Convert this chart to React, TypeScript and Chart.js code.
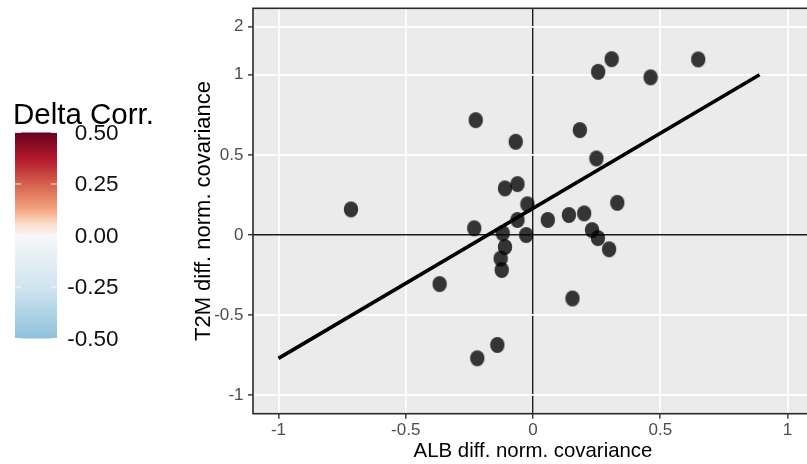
import { useEffect, useRef } from 'react';
import { Chart, registerables, LinearScale } from 'chart.js';

// Normalised covariance differences, one entry per site
const ALB_DIFF = [
  -0.225, -0.068, 0.184, 0.249, -0.110, -0.061, 0.331, -0.022, -0.061, 0.058,
  0.141, 0.201, -0.231, -0.119, -0.027, 0.232, 0.255, 0.299, -0.110, -0.127,
  -0.123, -0.367, 0.155, -0.140, -0.219, -0.715, 0.256, 0.309, 0.462, 0.649,
];
const T2M_DIFF = [
  0.717, 0.582, 0.655, 0.478, 0.291, 0.318, 0.201, 0.192, 0.094, 0.094,
  0.125, 0.135, 0.042, 0.011, 0.0, 0.031, -0.019, -0.089, -0.075, -0.147,
  -0.218, -0.306, -0.396, -0.686, -0.769, 0.160, 1.062, 1.326, 0.984, 1.320,
];

// Linear fit drawn across the panel
const FIT_X = [-1, 0.89];
const FIT_Y = [-0.77, 1.0];

const X_TICKS = [-1, -0.5, 0, 0.5, 1];
const Y_TICKS = [-1, -0.5, 0, 0.5, 1, 2];

const LEGEND_BREAKS = [0.5, 0.25, 0, -0.25, -0.5];
const LEGEND_LABELS = ['0.50', '0.25', '0.00', '-0.25', '-0.50'];

const FONT = "'Liberation Sans', Arial, sans-serif";
const PANEL_BG = '#EBEBEB';
const GRID = '#FFFFFF';
const ZERO_LINE = '#1c1c1c';
const POINT_FILL = 'rgba(0,0,0,0.78)';

// RdBu-style ramp for the colour bar, top (0.5) to bottom (-0.5)
const BAR_STOPS: [number, string][] = [
  [0, '#67001F'],
  [0.125, '#B2182B'],
  [0.25, '#D6604D'],
  [0.375, '#F4A582'],
  [0.44, '#FDDBC7'],
  [0.5, '#F7F7F7'],
  [0.75, '#D1E5F0'],
  [1, '#8FC1DB'],
];

// y axis: linear inside [-1, 1], compressed beyond it
const SQUISH = 0.3;
const squish = (v: number) =>
  Math.abs(v) <= 1 ? v : Math.sign(v) * (1 + (Math.abs(v) - 1) * SQUISH);
const unsquish = (t: number) =>
  Math.abs(t) <= 1 ? t : Math.sign(t) * (1 + (Math.abs(t) - 1) / SQUISH);

class SquishScale extends LinearScale {
  static id = 'squish';
  static defaults = LinearScale.defaults;
  configure() {
    super.configure();
    const lo = squish(this.min);
    const hi = squish(this.max);
    (this as any)._startValue = lo;
    (this as any)._endValue = hi;
    (this as any)._valueRange = hi - lo;
  }
  getPixelForValue(value: number) {
    if (value === null || value === undefined) return NaN;
    const self = this as any;
    return this.getPixelForDecimal((squish(value) - self._startValue) / self._valueRange);
  }
  getValueForPixel(pixel: number) {
    const self = this as any;
    return unsquish(self._startValue + this.getDecimalForPixel(pixel) * self._valueRange);
  }
}

Chart.register(...registerables, SquishScale);
Chart.defaults.font.family = FONT;

const Y_MIN = unsquish(-1.115);
const Y_MAX = unsquish(1.415);

function makeDot() {
  const c = document.createElement('canvas');
  c.width = 16;
  c.height = 18;
  const g = c.getContext('2d')!;
  g.fillStyle = POINT_FILL;
  g.beginPath();
  g.ellipse(8, 9, 7.2, 8.0, 0, 0, Math.PI * 2);
  g.fill();
  return c;
}

const panelPlugin = {
  id: 'panel',
  beforeDraw(chart: any) {
    const { ctx, chartArea: a } = chart;
    ctx.save();
    ctx.fillStyle = '#FFFFFF';
    ctx.fillRect(0, 0, chart.width, chart.height);
    ctx.fillStyle = PANEL_BG;
    ctx.fillRect(a.left, a.top, a.right - a.left, a.bottom - a.top);
    ctx.restore();
  },
  afterDraw(chart: any) {
    const { ctx, chartArea: a } = chart;
    ctx.save();
    // panel frame
    ctx.strokeStyle = '#2a2a2a';
    ctx.lineWidth = 1.6;
    ctx.strokeRect(a.left, a.top, a.right - a.left, a.bottom - a.top);

    // colour bar legend
    ctx.fillStyle = '#000';
    ctx.textAlign = 'left';
    ctx.textBaseline = 'alphabetic';
    ctx.font = `29.5px ${FONT}`;
    ctx.fillText('Delta Corr.', 13, 124);

    const top = 132.5;
    const bottom = 338.5;
    const left = 15;
    const w = 42;
    const grad = ctx.createLinearGradient(0, top, 0, bottom);
    BAR_STOPS.forEach(([f, c]) => grad.addColorStop(f, c));
    ctx.fillStyle = grad;
    ctx.fillRect(left, top, w, bottom - top);

    const lo = LEGEND_BREAKS[LEGEND_BREAKS.length - 1];
    const hi = LEGEND_BREAKS[0];
    ctx.font = `22.5px ${FONT}`;
    ctx.textAlign = 'right';
    ctx.textBaseline = 'middle';
    LEGEND_BREAKS.forEach((b, i) => {
      const y = top + ((hi - b) / (hi - lo)) * (bottom - top);
      ctx.strokeStyle = 'rgba(255,255,255,0.85)';
      ctx.lineWidth = 1;
      ctx.beginPath();
      ctx.moveTo(left, y);
      ctx.lineTo(left + 6, y);
      ctx.moveTo(left + w - 6, y);
      ctx.lineTo(left + w, y);
      ctx.stroke();
      ctx.fillStyle = '#111';
      ctx.fillText(LEGEND_LABELS[i], 118.5, y + 1);
    });
    ctx.restore();
  },
};

const gridColor = (c: any) => (c.tick && c.tick.value === 0 ? ZERO_LINE : GRID);
const gridWidth = (c: any) => (c.tick && c.tick.value === 0 ? 1.4 : 1.7);

export default function App() {
  const ref = useRef<HTMLCanvasElement>(null);

  useEffect(() => {
    const canvas = ref.current;
    if (!canvas) return;
    const dot = makeDot();
    const chart = new Chart(canvas, {
      type: 'scatter',
      data: {
        datasets: [
          {
            label: 'fit',
            data: FIT_X.map((x, i) => ({ x, y: FIT_Y[i] })),
            showLine: true,
            borderColor: '#000',
            borderWidth: 3.6,
            pointRadius: 0,
            pointHoverRadius: 0,
            order: 0,
          },
          {
            label: 'sites',
            data: ALB_DIFF.map((x, i) => ({ x, y: T2M_DIFF[i] })),
            pointStyle: dot as any,
            pointRadius: 8,
            pointHoverRadius: 8,
            order: 1,
          },
        ],
      },
      options: {
        animation: false,
        responsive: true,
        maintainAspectRatio: false,
        events: [],
        layout: { autoPadding: false, padding: { left: 180, top: 8.3, right: 0, bottom: 0 } },
        plugins: {
          legend: { display: false },
          tooltip: { enabled: false },
        },
        scales: {
          x: {
            type: 'linear',
            min: -1.1,
            max: 1.1,
            afterBuildTicks: (s: any) => {
              s.ticks = X_TICKS.map((v) => ({ value: v }));
            },
            afterFit: (s: any) => {
              s.height = 50.3;
              s.paddingLeft = 0;
              s.paddingRight = 0;
            },
            border: { display: false },
            grid: {
              color: gridColor,
              lineWidth: gridWidth,
              tickColor: '#333',
              tickWidth: 1.4,
              tickLength: 5,
            },
            ticks: {
              color: '#4D4D4D',
              font: { size: 17 },
              padding: 1,
              maxRotation: 0,
              autoSkip: false,
              callback: (v: any) => String(v),
            },
            title: {
              display: true,
              text: 'ALB diff. norm. covariance',
              color: '#000',
              font: { size: 20.4 },
              padding: { top: 0, bottom: 0 },
            },
          },
          y: {
            type: 'squish' as any,
            min: Y_MIN,
            max: Y_MAX,
            afterBuildTicks: (s: any) => {
              s.ticks = Y_TICKS.map((v) => ({ value: v }));
            },
            afterFit: (s: any) => {
              s.width = 73;
              s.paddingTop = 0;
              s.paddingBottom = 0;
            },
            border: { display: false },
            grid: {
              color: gridColor,
              lineWidth: gridWidth,
              tickColor: '#333',
              tickWidth: 1.4,
              tickLength: 5,
            },
            ticks: {
              color: '#4D4D4D',
              font: { size: 17 },
              padding: 4.5,
              autoSkip: false,
              callback: (v: any) => String(v),
            },
            title: {
              display: true,
              text: 'T2M diff. norm. covariance',
              color: '#000',
              font: { size: 22 },
              padding: { top: 10.5, bottom: 0 },
            },
          },
        },
      },
      plugins: [panelPlugin],
    } as any);
    return () => chart.destroy();
  }, []);

  return (
    <div
      style={{
        position: 'fixed',
        left: 0,
        top: 0,
        width: 807,
        height: 464,
        overflow: 'hidden',
        background: '#fff',
      }}
    >
      <div style={{ position: 'relative', width: 813, height: 464 }}>
        <canvas ref={ref} />
      </div>
    </div>
  );
}
